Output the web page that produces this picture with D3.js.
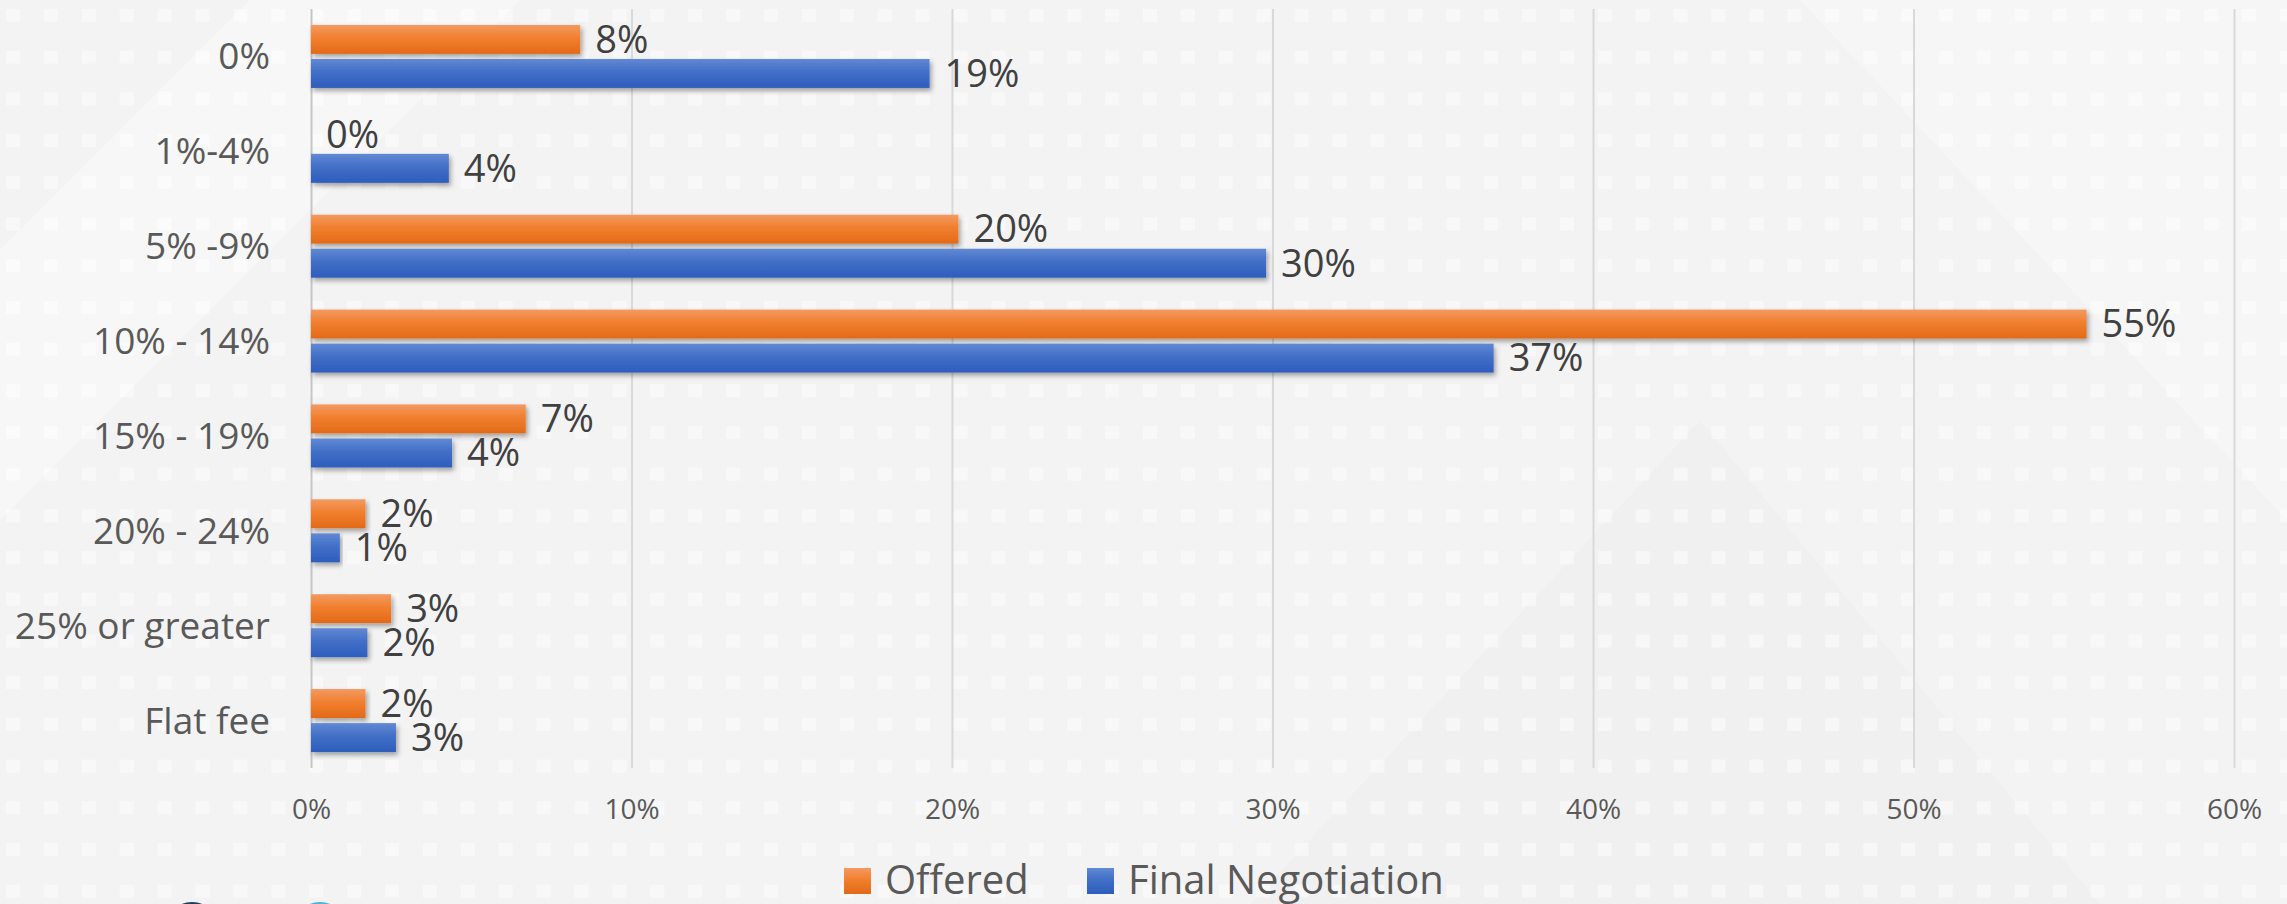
<!DOCTYPE html>
<html>
<head>
<meta charset="utf-8">
<script src="https://cdn.jsdelivr.net/npm/d3@7"></script>
<style>
  body { margin: 0; background: #f3f3f3; }
  svg { display: block; font-family: "Open Sans", "Noto Sans", sans-serif; }
</style>
</head>
<body>
<div id="chart"></div>
<script>
// categories and series (fractions)
var categories = ["0%", "1%-4%", "5% -9%", "10% - 14%", "15% - 19%", "20% - 24%", "25% or greater", "Flat fee"];
var offered = [0.084, 0, 0.202, 0.554, 0.067, 0.017, 0.025, 0.017];
var finalNegotiation = [0.193, 0.043, 0.298, 0.369, 0.044, 0.009, 0.0176, 0.0265];
var seriesNames = ["Offered", "Final Negotiation"];
var xTicks = [0, 0.1, 0.2, 0.3, 0.4, 0.5, 0.6];

var W = 2287, H = 904;
var margin = {top: 9, left: 311, right: 53, bottom: 136};
var width = W - margin.left - margin.right,
    height = H - margin.top - margin.bottom;

var svg = d3.select("#chart").append("svg")
    .attr("width", W)
    .attr("height", H);

var defs = svg.append("defs");

// faint square pattern of the slide background
var pat = defs.append("pattern")
    .attr("id", "squares")
    .attr("patternUnits", "userSpaceOnUse")
    .attr("x", 6).attr("y", 9)
    .attr("width", 37.9).attr("height", 41.7);
pat.append("rect").attr("width", 14).attr("height", 13)
    .attr("fill", "#ffffff").attr("opacity", 0.45);

// bar gradients
function grad(id, stops) {
  var g = defs.append("linearGradient").attr("id", id)
      .attr("x1", 0).attr("y1", 0).attr("x2", 0).attr("y2", 1);
  stops.forEach(function(s) {
    g.append("stop").attr("offset", s[0]).attr("stop-color", s[1]);
  });
}
grad("gOrange", [[0, "#f39a62"], [0.45, "#f17f2e"], [1, "#e26a18"]]);
grad("gBlue", [[0, "#6189d3"], [0.45, "#426fc7"], [1, "#2e5dbc"]]);

var sh = defs.append("filter").attr("id", "shadow")
    .attr("x", "-5%").attr("y", "-30%").attr("width", "115%").attr("height", "180%");
sh.append("feDropShadow").attr("dx", 2).attr("dy", 3)
    .attr("stdDeviation", 2.5).attr("flood-color", "#000").attr("flood-opacity", 0.35);

// background
svg.append("rect").attr("width", W).attr("height", H).attr("fill", "#f3f3f3");
svg.append("polygon").attr("points", "0,250 250,0 520,0 0,520").attr("fill", "#fff").attr("opacity", 0.35);
svg.append("polygon").attr("points", "1250,904 1700,420 2100,904").attr("fill", "#000").attr("opacity", 0.012);
svg.append("polygon").attr("points", "1800,0 2287,0 2287,520").attr("fill", "#fff").attr("opacity", 0.3);
svg.append("rect").attr("width", W).attr("height", H).attr("fill", "url(#squares)");

// decorative circles cut at the bottom edge
svg.append("circle").attr("cx", 192).attr("cy", 930).attr("r", 28).attr("fill", "#1f3d5e");
svg.append("circle").attr("cx", 320).attr("cy", 930).attr("r", 28).attr("fill", "#4cb2e4");

var g = svg.append("g")
    .attr("transform", "translate(" + margin.left + "," + margin.top + ")");

// scales
var x = d3.scaleLinear().domain([0, 0.6]).range([0, width]);
var y0 = d3.scaleBand().domain(categories).range([0, height])
    .paddingInner(0.336).paddingOuter(0.168);
var y1 = d3.scaleBand().domain(seriesNames).range([0, y0.bandwidth()])
    .paddingInner(0.15).paddingOuter(0);

// gridlines
var grid = g.append("g")
    .attr("transform", "translate(0," + height + ")")
    .call(d3.axisBottom(x).tickValues(xTicks).tickSize(-height).tickFormat(""));
grid.select(".domain").remove();
grid.selectAll("line")
    .attr("stroke", function(d) { return d === 0 ? "#c6c6c6" : "#d9d9d9"; })
    .attr("stroke-width", 2);

// x axis labels
var xAxis = g.append("g")
    .attr("transform", "translate(0," + height + ")")
    .call(d3.axisBottom(x).tickValues(xTicks).tickSize(0).tickFormat(d3.format(".0%")));
xAxis.select(".domain").remove();
xAxis.selectAll("text")
    .attr("y", 41)
    .attr("dy", "0.35em")
    .attr("fill", "#595959")
    .style("font-size", "28px")
    .style("font-family", "'Open Sans', sans-serif");

// category labels
var yAxis = g.append("g")
    .call(d3.axisLeft(y0).tickSize(0).tickPadding(41));
yAxis.select(".domain").remove();
yAxis.selectAll("text")
    .attr("dy", "0.35em")
    .attr("fill", "#595959")
    .style("font-size", "37px")
    .style("font-family", "'Open Sans', sans-serif");

// bars
var rows = categories.map(function(c, i) {
  return {cat: c, vals: [
    {key: "Offered", v: offered[i], fill: "url(#gOrange)"},
    {key: "Final Negotiation", v: finalNegotiation[i], fill: "url(#gBlue)"}
  ]};
});

var group = g.selectAll(".grp").data(rows).enter().append("g")
    .attr("class", "grp")
    .attr("transform", function(d) { return "translate(0," + y0(d.cat) + ")"; });

group.selectAll("rect").data(function(d) { return d.vals; }).enter().append("rect")
    .attr("x", x(0))
    .attr("y", function(d) { return y1(d.key); })
    .attr("height", y1.bandwidth())
    .attr("width", function(d) { return x(d.v) - x(0); })
    .attr("fill", function(d) { return d.fill; })
    .attr("filter", function(d) { return d.v > 0 ? "url(#shadow)" : null; });

group.selectAll("text").data(function(d) { return d.vals; }).enter().append("text")
    .attr("x", function(d) { return x(d.v) + 15; })
    .attr("y", function(d) { return y1(d.key) + y1.bandwidth() / 2; })
    .attr("dy", "0.35em")
    .attr("fill", "#404040")
    .style("font-size", "38px")
    .text(function(d) { return d3.format(".0%")(d.v); });

// legend
var legend = svg.append("g").attr("transform", "translate(0,880)");
var legendItems = [
  {name: "Offered", fill: "url(#gOrange)", x: 844},
  {name: "Final Negotiation", fill: "url(#gBlue)", x: 1087}
];
legendItems.forEach(function(it) {
  legend.append("rect")
      .attr("x", it.x).attr("y", -12)
      .attr("width", 27).attr("height", 26)
      .attr("fill", it.fill);
  legend.append("text")
      .attr("x", it.x + 41).attr("y", 0)
      .attr("dy", "0.35em")
      .attr("fill", "#595959")
      .style("font-size", "40px")
      .text(it.name);
});
</script>
</body>
</html>
